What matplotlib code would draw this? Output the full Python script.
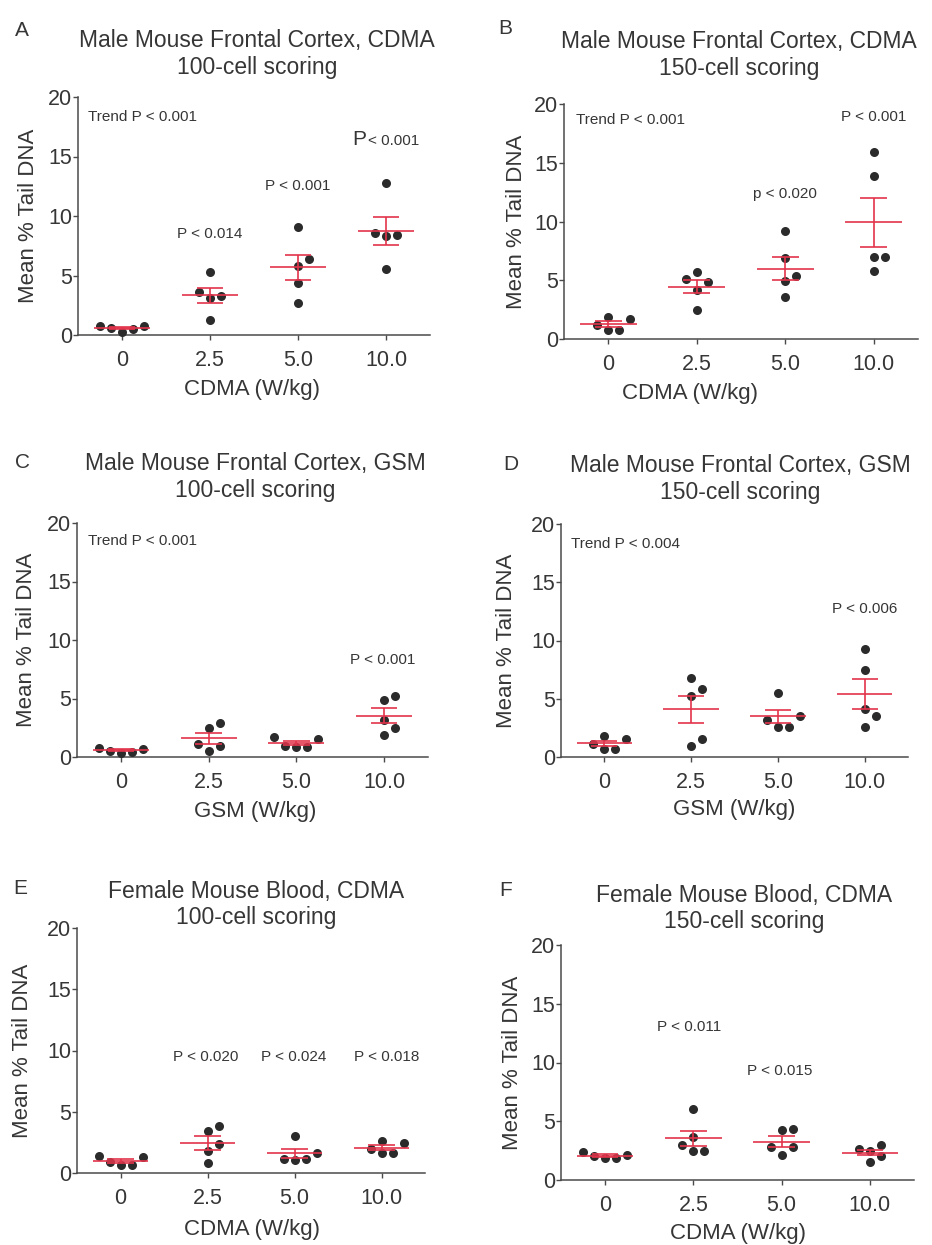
import numpy as np
import matplotlib
matplotlib.use("Agg")
import matplotlib.pyplot as plt

plt.rcParams['font.family'] = ['Liberation Sans', 'DejaVu Sans']

# tick labels shared by all panels
doses = ['0', '2.5', '5.0', '10.0']

# % tail DNA per animal, one list per dose group
a_vals = [[0.76, 0.56, 0.28, 0.48, 0.76],
          [5.33, 3.28, 3.09, 3.65, 1.26],
          [9.10, 5.83, 6.40, 4.40, 2.72],
          [12.76, 8.41, 8.36, 8.55, 5.55]]
b_vals = [[1.87, 1.22, 0.79, 0.79, 1.70],
          [5.69, 4.84, 5.10, 4.19, 2.44],
          [9.20, 6.88, 5.38, 4.90, 3.57],
          [15.92, 13.88, 7.02, 7.02, 5.75]]
c_vals = [[0.80, 0.51, 0.34, 0.43, 0.71],
          [2.93, 2.51, 1.08, 0.51, 0.94],
          [1.71, 0.94, 0.85, 0.85, 1.57],
          [4.84, 5.18, 3.19, 2.51, 1.91]]
d_vals = [[1.80, 1.15, 0.72, 0.72, 1.58],
          [6.82, 5.82, 5.24, 1.58, 0.95],
          [5.53, 3.21, 2.58, 2.58, 3.50],
          [9.25, 7.45, 4.15, 3.50, 2.58]]
e_vals = [[1.36, 0.87, 0.63, 0.63, 1.28],
          [3.81, 3.40, 2.39, 1.77, 0.82],
          [3.05, 1.14, 1.03, 1.14, 1.63],
          [2.59, 1.96, 1.63, 1.63, 2.45]]
f_vals = [[2.41, 2.04, 1.90, 1.90, 2.13],
          [6.01, 3.69, 2.98, 2.50, 2.50],
          [4.34, 4.26, 2.84, 2.78, 2.13],
          [2.98, 2.50, 2.04, 1.56, 2.61]]

letters = ['A', 'B', 'C', 'D', 'E', 'F']
titles1 = ['Male Mouse Frontal Cortex, CDMA', 'Male Mouse Frontal Cortex, CDMA',
           'Male Mouse Frontal Cortex, GSM', 'Male Mouse Frontal Cortex, GSM',
           'Female Mouse Blood, CDMA', 'Female Mouse Blood, CDMA']
titles2 = ['100-cell scoring', '150-cell scoring'] * 3
xlabels = ['CDMA (W/kg)', 'CDMA (W/kg)', 'GSM (W/kg)', 'GSM (W/kg)',
           'CDMA (W/kg)', 'CDMA (W/kg)']

# p-value notes: (text, x, y, ha)
notes = [
    [('Trend P < 0.001', -0.39, 18.3, 'left'), ('P < 0.014', 1.0, 8.5, 'center'),
     ('P < 0.001', 2.0, 12.5, 'center')],
    [('Trend P < 0.001', -0.36, 18.6, 'left'), ('p < 0.020', 2.0, 12.35, 'center'),
     ('P < 0.001', 3.0, 18.9, 'center')],
    [('Trend P < 0.001', -0.38, 18.5, 'left'), ('P < 0.001', 2.98, 8.3, 'center')],
    [('Trend P < 0.004', -0.38, 18.3, 'left'), ('P < 0.006', 3.0, 12.7, 'center')],
    [('P < 0.020', 0.98, 9.5, 'center'), ('P < 0.024', 1.99, 9.5, 'center'),
     ('P < 0.018', 3.06, 9.5, 'center')],
    [('P < 0.011', 0.95, 13.0, 'center'), ('P < 0.015', 1.98, 9.3, 'center')],
]

W, H = 932, 1245
# axes boxes in pixels: left, right, top (y=20), bottom (y=0)
boxes = [(78, 430, 97, 335), (564, 918, 104, 339),
         (77, 428, 523, 757), (561, 908, 524, 757),
         (77, 425, 928, 1173), (561, 914, 945, 1180)]
title_pos = [(257, 47, 74), (739, 48, 75), (255, 470, 497), (740, 472, 499),
             (256, 898, 924), (744, 902, 928)]
letter_pos = [(22, 30), (505, 29), (22, 462), (511, 465), (20, 889), (506, 891)]
xlabel_pos = [(252, 389), (690, 393), (255, 812), (734, 810), (252, 1230), (738, 1233)]
ylabel_x = [29, 516, 27, 506, 23, 512]

dot_col = '#2b2b2b'
red = '#e3344c'
txt = '#363636'
ax_col = '#4a4a4a'


def swarm(vals, ppx, ppy, d=11.0):
    # simple beeswarm: offsets in pixels so that dots do not overlap
    vals = np.asarray(vals)
    placed = []
    offs = np.zeros(len(vals))
    for i in np.argsort(vals, kind='stable'):
        y = vals[i] * ppy
        for k in [0, 1, -1, 2, -2, 3, -3, 4, -4]:
            x = k * d
            if all((x - px) ** 2 + (y - py) ** 2 >= (d - 0.01) ** 2 for px, py in placed):
                break
        placed.append((x, y))
        offs[i] = x / ppx
    return offs


fig = plt.figure(figsize=(W / 100, H / 100), dpi=100)
all_vals = [a_vals, b_vals, c_vals, d_vals, e_vals, f_vals]

for p, groups in enumerate(all_vals):
    l, r, t, b = boxes[p]
    ax = fig.add_axes([l / W, 1 - b / H, (r - l) / W, (b - t) / H])
    ax.set_xlim(-0.5, 3.5)
    ax.set_ylim(0, 20)
    ppx = (r - l) / 4.0
    ppy = (b - t) / 20.0
    for g, vals in enumerate(groups):
        vals = np.array(vals)
        xs = g + swarm(vals, ppx, ppy)
        ax.plot(xs, vals, 'o', color=dot_col, ms=6.5, mew=0, clip_on=False, zorder=3)
        m = vals.mean()
        sem = vals.std(ddof=1) / np.sqrt(len(vals))
        ax.hlines(m, g - 0.32, g + 0.32, color=red, lw=1.2, zorder=4)
        ax.hlines([m - sem, m + sem], g - 0.15, g + 0.15, color=red, lw=1.2, zorder=4)
        ax.vlines(g, m - sem, m + sem, color=red, lw=1.2, zorder=4)

    for s in ['top', 'right']:
        ax.spines[s].set_visible(False)
    for s in ['left', 'bottom']:
        ax.spines[s].set_color(ax_col)
        ax.spines[s].set_linewidth(1.1)
    ax.set_yticks([0, 5, 10, 15, 20])
    ax.set_xticks(range(4))
    ax.set_xticklabels(doses)
    ax.tick_params(axis='y', length=3.5, width=1.0, color=ax_col, pad=0.5,
                   labelsize=15.5, labelcolor=txt)
    ax.tick_params(axis='x', length=3.5, width=1.0, color=ax_col, pad=7,
                   labelsize=15.5, labelcolor=txt)

    for text, x, y, ha in notes[p]:
        ax.text(x, y, text, ha=ha, va='center', fontsize=11, color=txt)
    if p == 0:
        # the 10.0 note in panel A has a larger "P"
        ax.text(2.78, 16.0, 'P', ha='right', va='baseline', fontsize=15, color=txt)
        ax.text(2.80, 16.0, '< 0.001', ha='left', va='baseline', fontsize=11, color=txt)

    tx, y1, y2 = title_pos[p]
    fig.text(tx / W, 1 - y1 / H, titles1[p], ha='center', va='baseline',
             fontsize=16.5, color=txt)
    fig.text(tx / W, 1 - y2 / H, titles2[p], ha='center', va='baseline',
             fontsize=16.5, color=txt)
    lx, ly = letter_pos[p]
    fig.text(lx / W, 1 - ly / H, letters[p], ha='center', va='center',
             fontsize=15, color=txt)
    xx, xy = xlabel_pos[p]
    fig.text(xx / W, 1 - xy / H, xlabels[p], ha='center', va='center',
             fontsize=16, color=txt)
    fig.text(ylabel_x[p] / W, 1 - (t + b) / 2 / H, 'Mean % Tail DNA', ha='center',
             va='center', rotation=90, fontsize=16, color=txt)

fig.savefig('out.png', dpi=100)
